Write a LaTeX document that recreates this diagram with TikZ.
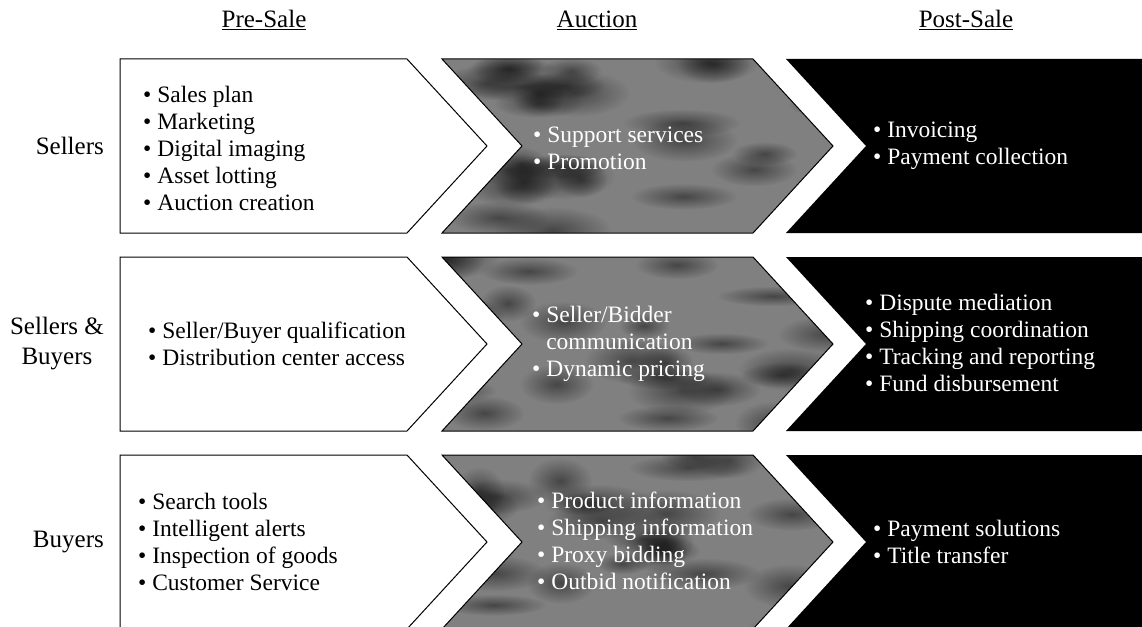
\documentclass[tikz,border=0pt]{standalone}
\usepackage{fontspec}
\setmainfont{Liberation Serif}
\usetikzlibrary{positioning,fadings}

\definecolor{auctiongray}{gray}{0.5}
\tikzfading[name=softblob, inner color=transparent!0, outer color=transparent!100]

\tikzset{
  phase/.style={draw=black, line width=1pt},
  itemtext/.style={anchor=west, align=left, inner sep=0pt, font=\fontsize{23.5}{27}\selectfont},
  whitetext/.style={itemtext, text=white},
  headtext/.style={anchor=base, inner sep=0pt, font=\fontsize{25}{30}\selectfont},
  rowtext/.style={anchor=east, align=center, inner sep=0pt, font=\fontsize{25}{30}\selectfont},
  blob/.style={fill=black, path fading=softblob, opacity=0.45},
}

\begin{document}
\begin{tikzpicture}[x=1pt, y=-1pt]
\useasboundingbox (0,0) rectangle (1142,626);

% Define a variable for spacing
\def\rowsep{198}
\def\half{87}
\pgfmathsetseed{11}

% Chevrons for the three rows
\foreach \r in {0,1,2} {
    \pgfmathsetmacro{\rtop}{59+\rowsep*\r}
    \pgfmathsetmacro{\rmid}{\rtop+\half}
    \pgfmathsetmacro{\rbot}{\rtop+2*\half}
    % pre-sale
    \draw[phase, fill=white] (120,\rtop) -- (407,\rtop) -- (487,\rmid) -- (407,\rbot) -- (120,\rbot) -- cycle;
    % auction, mottled grey
    \begin{scope}
        \clip (442,\rtop) -- (753,\rtop) -- (833,\rmid) -- (753,\rbot) -- (442,\rbot) -- (522,\rmid) -- cycle;
        \fill[auctiongray] (440,\rtop) rectangle (840,\rbot);
        \foreach \k in {1,...,26} {
            \fill[blob] ({440+400*rnd},{\rtop+174*rnd}) ellipse ({25+35*rnd} and {10+14*rnd});
        }
    \end{scope}
    \draw[phase] (442,\rtop) -- (753,\rtop) -- (833,\rmid) -- (753,\rbot) -- (442,\rbot) -- (522,\rmid) -- cycle;
    % post-sale
    \fill[black] (786,\rtop) -- (1150,\rtop) -- (1150,\rbot) -- (786,\rbot) -- (866,\rmid) -- cycle;
}

% Column headers
\node[headtext] (presale) at (264,28) {\underline{Pre-Sale}};
\node[headtext] (auction) at (597,28) {\underline{Auction}};
\node[headtext] (postsale) at (966,28) {\underline{Post-Sale}};

% Row labels
\node[rowtext] (sellers) at (104,146) {Sellers};
\node[rowtext] (both) at (104,344) {Sellers \&\\Buyers};
\node[rowtext] (buyers) at (104,542) {Buyers};

% Sellers row
\node[itemtext] (pre1) at (143,148) {•\ Sales plan\\•\ Marketing\\•\ Digital imaging\\•\ Asset lotting\\•\ Auction creation};
\node[whitetext] (auc1) at (533,148) {•\ Support services\\•\ Promotion};
\node[whitetext] (post1) at (873,146) {•\ Invoicing\\•\ Payment collection};

% Sellers & Buyers row
\node[itemtext] (pre2) at (148,344) {•\ Seller/Buyer qualification\\•\ Distribution center access};
\node[whitetext] (auc2) at (532,344) {•\ Seller/Bidder\\\hphantom{•\ }communication\\•\ Dynamic pricing};
\node[whitetext] (post2) at (865,343) {•\ Dispute mediation\\•\ Shipping coordination\\•\ Tracking and reporting\\•\ Fund disbursement};

% Buyers row
\node[itemtext] (pre3) at (138,542) {•\ Search tools\\•\ Intelligent alerts\\•\ Inspection of goods\\•\ Customer Service};
\node[whitetext] (auc3) at (537,541) {•\ Product information\\•\ Shipping information\\•\ Proxy bidding\\•\ Outbid notification};
\node[whitetext] (post3) at (873,542) {•\ Payment solutions\\•\ Title transfer};

\end{tikzpicture}
\end{document}
